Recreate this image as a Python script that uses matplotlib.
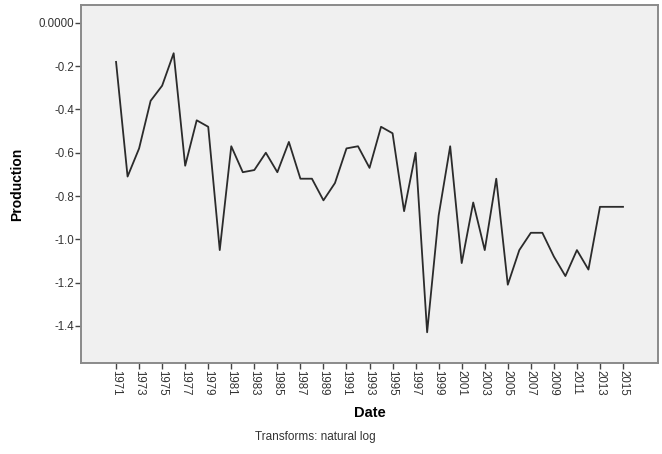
import matplotlib
matplotlib.use("Agg")
from matplotlib import pyplot as plt

plt.rcParams["font.family"] = ["Liberation Sans", "DejaVu Sans"]

# years and natural log of production
years = list(range(1971, 2016))
production = [
    -0.18, -0.71, -0.58, -0.36, -0.29, -0.14, -0.66, -0.45, -0.48, -1.05,
    -0.57, -0.69, -0.68, -0.60, -0.69, -0.55, -0.72, -0.72, -0.82, -0.74,
    -0.58, -0.57, -0.67, -0.48, -0.51, -0.87, -0.60, -1.43, -0.89, -0.57,
    -1.11, -0.83, -1.05, -0.72, -1.21, -1.05, -0.97, -0.97, -1.08, -1.17,
    -1.05, -1.14, -0.85, -0.85, -0.85,
]
y_ticks = [0.0, -0.2, -0.4, -0.6, -0.8, -1.0, -1.2, -1.4]
y_tick_labels = ["0.0000", "-0.2", "-0.4", "-0.6", "-0.8", "-1.0", "-1.2", "-1.4"]
x_ticks = list(range(1971, 2016, 2))

fig = plt.figure(figsize=(6.62, 4.54), dpi=100)
ax = fig.add_axes([0.1224, 0.2004, 0.8716, 0.7886])
ax.set_facecolor("#f0f0f0")

ax.plot(years, production, color="#2b2b2b", linewidth=1.3)

ax.set_xlim(1967.96, 2018.04)
ax.set_ylim(-1.572, 0.083)

ax.set_yticks(y_ticks)
ax.set_yticklabels(y_tick_labels)
ax.set_xticks(x_ticks)
ax.set_xticklabels([str(y) for y in x_ticks], rotation=270)

for side in ["left", "right", "top", "bottom"]:
    ax.spines[side].set_color("#8a8a8a")
    ax.spines[side].set_linewidth(1.4)

ax.tick_params(axis="both", direction="out", length=4, width=1.0,
               color="#444444", labelsize=8.3, labelcolor="#333333", pad=1)

ax.set_ylabel("Production", fontsize=10, fontweight="bold", labelpad=10)
ax.set_xlabel("Date", fontsize=10.5, fontweight="bold", labelpad=7)

fig.text(0.476, 0.037, "Transforms: natural log", ha="center", va="center",
         fontsize=8.5, color="#333333")

fig.savefig("out.png", dpi=100, facecolor="white")
